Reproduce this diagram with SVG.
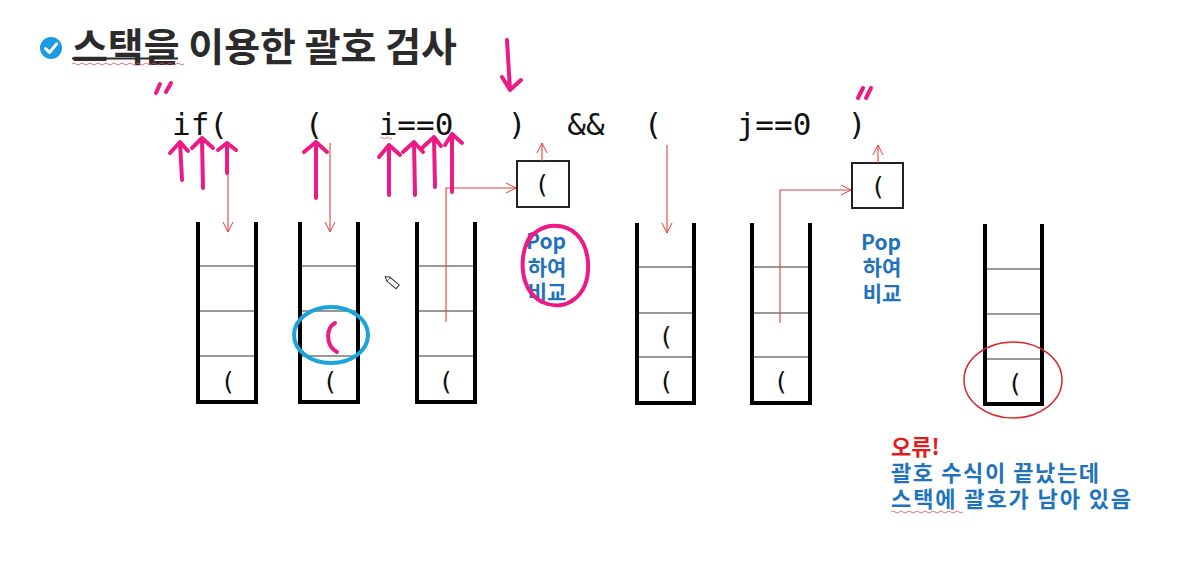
<svg xmlns="http://www.w3.org/2000/svg" width="1183" height="566" viewBox="0 0 1183 566">
<defs>
<marker id="ar" viewBox="0 0 12 12" refX="11" refY="6" markerWidth="12" markerHeight="12" markerUnits="userSpaceOnUse" orient="auto">
<path d="M1,1 L11,6 L1,11" fill="none" stroke="#e0403c" stroke-width="1"/>
</marker>
<style>
.title{font-family:"Noto Sans CJK KR","Noto Sans",sans-serif;font-weight:bold;font-size:39px;fill:#2b2b2b}
.code{font-family:"DejaVu Sans Mono","Liberation Mono",monospace;font-size:31px;fill:#111;text-anchor:middle}
.par{font-family:"DejaVu Sans Mono","Liberation Mono",monospace;font-size:25px;fill:#111;text-anchor:middle}
.wall{fill:none;stroke:#000;stroke-width:4;stroke-linejoin:miter}
.div{stroke:#777;stroke-width:1.3}
.box{fill:#fff;stroke:#222;stroke-width:2}
.con{fill:none;stroke:#e0403c;stroke-width:1.1}
.pop{font-family:"Noto Sans CJK KR","Noto Sans",sans-serif;font-weight:bold;font-size:21px;fill:#1f73bd;text-anchor:middle}
.err{font-family:"Noto Sans CJK KR","Noto Sans",sans-serif;font-weight:bold;font-size:22px;fill:#1f73bd}
.ink{fill:none;stroke:#ec1a84;stroke-width:4;stroke-linecap:round;stroke-linejoin:round}
.wavy{fill:none;stroke:#e05050;stroke-width:0.8}
</style>
</defs>
<rect width="1183" height="566" fill="#fff"/>

<g id="title">
<circle cx="51" cy="48" r="11" fill="#1b9ce2"/>
<path d="M45.5,48.5 L49.5,52.5 L56.5,44" fill="none" stroke="#fff" stroke-width="3" stroke-linecap="round" stroke-linejoin="round"/>
<text class="title" x="72" y="61" textLength="385">스택을 이용한 괄호 검사</text>
<line x1="72" y1="58.5" x2="178" y2="58.5" stroke="#2b2b2b" stroke-width="2"/>
<path class="wavy" d="M72,64 q2,-2 4,0 t4,0 t4,0 t4,0 t4,0 t4,0 t4,0 t4,0 t4,0 t4,0 t4,0 t4,0 t4,0 t4,0 t4,0 t4,0 t4,0 t4,0 t4,0 t4,0 t4,0 t4,0 t4,0 t4,0 t4,0 t4,0 t4,0 t4,0"/>
</g>

<g id="expression">
<text class="code" x="200" y="135">if(</text>
<text class="code" x="314" y="135">(</text>
<text class="code" x="416" y="135">i==0</text>
<text class="code" x="517" y="135">)</text>
<text class="code" x="586" y="135">&amp;&amp;</text>
<text class="code" x="653" y="135">(</text>
<text class="code" x="774" y="135">j==0</text>
<text class="code" x="857" y="135">)</text>
<path class="wavy" d="M380,138 q1.5,-1.5 3,0 t3,0 t3,0 t3,0"/>
</g>

<g id="stack1">
<path class="wall" d="M198,222 V402 H256 V222"/>
<line class="div" x1="200" y1="266" x2="254" y2="266"/>
<line class="div" x1="200" y1="311" x2="254" y2="311"/>
<line class="div" x1="200" y1="356" x2="254" y2="356"/>
<text class="par" x="228" y="390">(</text>
</g>
<g id="stack2">
<path class="wall" d="M300,222 V402 H358 V222"/>
<line class="div" x1="302" y1="266" x2="356" y2="266"/>
<line class="div" x1="302" y1="311" x2="356" y2="311"/>
<line class="div" x1="302" y1="356" x2="356" y2="356"/>
<text class="par" x="330" y="390">(</text>
</g>
<g id="stack3">
<path class="wall" d="M417,222 V402 H475 V222"/>
<line class="div" x1="419" y1="266" x2="473" y2="266"/>
<line class="div" x1="419" y1="311" x2="473" y2="311"/>
<line class="div" x1="419" y1="356" x2="473" y2="356"/>
<text class="par" x="446" y="390">(</text>
</g>
<g id="box1">
<rect class="box" x="517" y="161" width="52" height="46"/>
<text class="par" x="542" y="193">(</text>
</g>
<g id="pop1">
<text class="pop" x="546" y="249">Pop</text>
<text class="pop" x="547" y="275">하여</text>
<text class="pop" x="547" y="300">비교</text>
</g>
<g id="stack4">
<path class="wall" d="M637,223 V403 H694 V223"/>
<line class="div" x1="639" y1="267" x2="692" y2="267"/>
<line class="div" x1="639" y1="313" x2="692" y2="313"/>
<line class="div" x1="639" y1="357" x2="692" y2="357"/>
<text class="par" x="666" y="345">(</text>
<text class="par" x="666" y="390">(</text>
</g>
<g id="stack5">
<path class="wall" d="M752,223 V403 H810 V223"/>
<line class="div" x1="754" y1="267" x2="808" y2="267"/>
<line class="div" x1="754" y1="313" x2="808" y2="313"/>
<line class="div" x1="754" y1="357" x2="808" y2="357"/>
<text class="par" x="781" y="390">(</text>
</g>
<g id="box2">
<rect class="box" x="852" y="163" width="51" height="45"/>
<text class="par" x="878" y="195">(</text>
</g>
<g id="pop2">
<text class="pop" x="881" y="250">Pop</text>
<text class="pop" x="882" y="275">하여</text>
<text class="pop" x="882" y="301">비교</text>
</g>
<g id="stack6">
<path class="wall" d="M985,224 V404 H1042 V224"/>
<line class="div" x1="987" y1="269" x2="1040" y2="269"/>
<line class="div" x1="987" y1="314" x2="1040" y2="314"/>
<line class="div" x1="987" y1="359" x2="1040" y2="359"/>
<text class="par" x="1015" y="392">(</text>
<ellipse cx="1013" cy="380" rx="49" ry="38" fill="none" stroke="#d8262a" stroke-width="1.5"/>
</g>
<g id="error">
<text class="err" x="891" y="455" style="fill:#e41b1b">오류!</text>
<text class="err" x="891" y="481" textLength="208">괄호 수식이 끝났는데</text>
<text class="err" x="891" y="507" textLength="240">스택에 괄호가 남아 있음</text>
<path class="wavy" d="M891,512 q2,-2 4,0 t4,0 t4,0 t4,0 t4,0 t4,0 t4,0 t4,0 t4,0 t4,0 t4,0 t4,0 t4,0 t4,0 t4,0 t4,0 t4,0 t4,0"/>
</g>

<g id="connectors">
<path class="con" d="M228,145 V232" marker-end="url(#ar)"/>
<path class="con" d="M330,143 V232" marker-end="url(#ar)"/>
<path class="con" d="M446,322 V188 H516" marker-end="url(#ar)"/>
<path class="con" d="M542,161 V143" marker-end="url(#ar)"/>
<path class="con" d="M667,145 V233" marker-end="url(#ar)"/>
<path class="con" d="M780,323 V190 H851" marker-end="url(#ar)"/>
<path class="con" d="M878,163 V145" marker-end="url(#ar)"/>
</g>

<g id="annotations">
<path class="ink" d="M156,93 L160,84 M166,92 L171,83"/>
<path class="ink" d="M858,98 L863,88 M866,98 L871,88"/>
<path class="ink" d="M182,180 L180,142 M170,153 L180,142 L188,151"/>
<path class="ink" d="M203,188 L202,138 M192,148 L202,138 L213,148"/>
<path class="ink" d="M227,173 L227,143 M218,150 L227,143 L236,150"/>
<path class="ink" d="M316,198 L316,142 M304,152 L316,142 L327,152"/>
<path class="ink" d="M389,195 L389,145 M379,157 L389,145 L400,155"/>
<path class="ink" d="M415,195 L414,142 M403,152 L414,142 L423,152"/>
<path class="ink" d="M435,187 L434,137 M422,148 L434,137 L441,146"/>
<path class="ink" d="M452,192 L452,134 M445,145 L452,134 L462,143"/>
<path class="ink" d="M507,40 L510,90 M502,77 L510,90 L521,80"/>
<path class="ink" d="M335,323 C326,328 325,345 337,352"/>
<ellipse cx="331" cy="335" rx="37" ry="28" fill="none" stroke="#1ba3dc" stroke-width="4"/>
<path class="ink" stroke-width="3" d="M532,234 C519,250 517,288 542,302 C566,313 590,296 588,262 C586,238 572,224 550,226 C538,228 530,236 526,246"/>
<g transform="translate(393,283) rotate(40)">
<rect x="-6" y="-2.5" width="12" height="5" fill="#fff" stroke="#333" stroke-width="1"/>
<path d="M-6,-2.5 L-10,0 L-6,2.5" fill="#fff" stroke="#333" stroke-width="1"/>
</g>
</g>
</svg>
